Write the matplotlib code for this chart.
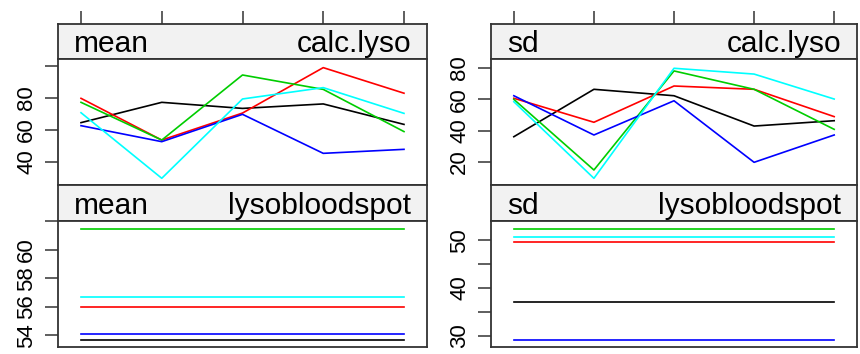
import matplotlib
matplotlib.use("Agg")
import matplotlib.pyplot as plt

plt.rcParams['font.family'] = ['Liberation Sans', 'DejaVu Sans']

x = [1, 2, 3, 4, 5]
groups = ["black", "red", "green", "blue", "cyan"]
colors = {"black": "#000000", "red": "#FF0000", "green": "#00CD00",
          "blue": "#0000FF", "cyan": "#00FFFF"}

# mean / calc.lyso
mean_calc = {
    "black": [64.6, 77.3, 73.5, 76.3, 63.5],
    "red":   [79.8, 53.7, 70.6, 99.0, 83.0],
    "green": [77.3, 53.7, 94.4, 85.4, 59.0],
    "blue":  [62.7, 52.7, 69.8, 45.4, 47.9],
    "cyan":  [70.8, 29.8, 79.4, 86.5, 70.4],
}
# sd / calc.lyso
sd_calc = {
    "black": [36.1, 66.3, 62.2, 42.9, 46.3],
    "red":   [60.6, 45.3, 68.4, 66.3, 48.9],
    "green": [59.9, 14.9, 78.0, 66.3, 40.8],
    "blue":  [62.2, 37.2, 59.0, 19.8, 37.2],
    "cyan":  [58.4, 9.6, 79.7, 76.0, 60.1],
}
# lysobloodspot is constant across x
mean_blood = {"black": 53.67, "red": 55.97, "green": 61.46, "blue": 54.07, "cyan": 56.72}
sd_blood = {"black": 37.1, "red": 49.7, "green": 52.3, "blue": 29.0, "cyan": 50.75}

W, H = 860, 354
fig = plt.figure(figsize=(W / 100, H / 100), dpi=100)

def box(l, r, t, b):
    return [l / W, 1 - b / H, (r - l) / W, (b - t) / H]

edge = "#333333"
strip_bg = "#F2F2F2"
xlim = (0.715, 5.285)

def style_spines(ax):
    for s in ax.spines.values():
        s.set_color(edge)
        s.set_linewidth(1.3)

def strip(l, r, t, b, left, right, top_ticks):
    ax = fig.add_axes(box(l, r, t, b))
    ax.set_facecolor(strip_bg)
    ax.set_xlim(*xlim)
    ax.set_ylim(0, 1)
    style_spines(ax)
    ax.set_yticks([])
    if top_ticks:
        ax.set_xticks(x)
        ax.tick_params(axis="x", bottom=False, top=True, labelbottom=False,
                       labeltop=False, length=9.5, width=1.1, color=edge)
    else:
        ax.set_xticks([])
    ax.text(16 / (r - l), 0.42, left, transform=ax.transAxes, fontsize=21.5,
            ha="left", va="center", color="black")
    ax.text(1 - 16 / (r - l), 0.42, right, transform=ax.transAxes, fontsize=21.5,
            ha="right", va="center", color="black")
    return ax

def panel(l, r, t, b, ylim, yticks, ylabels):
    ax = fig.add_axes(box(l, r, t, b))
    ax.set_xlim(*xlim)
    ax.set_ylim(*ylim)
    style_spines(ax)
    ax.set_xticks([])
    ax.set_yticks(yticks)
    ax.set_yticklabels(ylabels, rotation=90, va="center", fontsize=16)
    ax.tick_params(axis="y", length=9.5, width=1.1, color=edge, pad=5.5)
    return ax

cols = [(58, 427), (491, 857)]

# left column: mean
l, r = cols[0]
strip(l, r, 24, 59, "mean", "calc.lyso", True)
ax = panel(l, r, 59, 185, (25.6, 104.4), [40, 60, 80, 100], ["40", "60", "80", ""])
for g in groups:
    ax.plot(x, mean_calc[g], color=colors[g], lw=1.2)
strip(l, r, 185, 221, "mean", "lysobloodspot", False)
ax = panel(l, r, 221, 347, (53.18, 62.03), [54, 56, 58, 60, 62], ["54", "56", "58", "60", ""])
for g in groups:
    ax.plot(x, [mean_blood[g]] * len(x), color=colors[g], lw=1.2)

# right column: sd
l, r = cols[1]
strip(l, r, 24, 59, "sd", "calc.lyso", True)
ax = panel(l, r, 59, 185, (5.35, 85.6), [20, 40, 60, 80], ["20", "40", "60", "80"])
for g in groups:
    ax.plot(x, sd_calc[g], color=colors[g], lw=1.2)
strip(l, r, 185, 221, "sd", "lysobloodspot", False)
ax = panel(l, r, 221, 347, (27.6, 54.05), [30, 35, 40, 45, 50], ["30", "", "40", "", "50"])
for g in groups:
    ax.plot(x, [sd_blood[g]] * len(x), color=colors[g], lw=1.2)

fig.savefig("out.png", dpi=100)
